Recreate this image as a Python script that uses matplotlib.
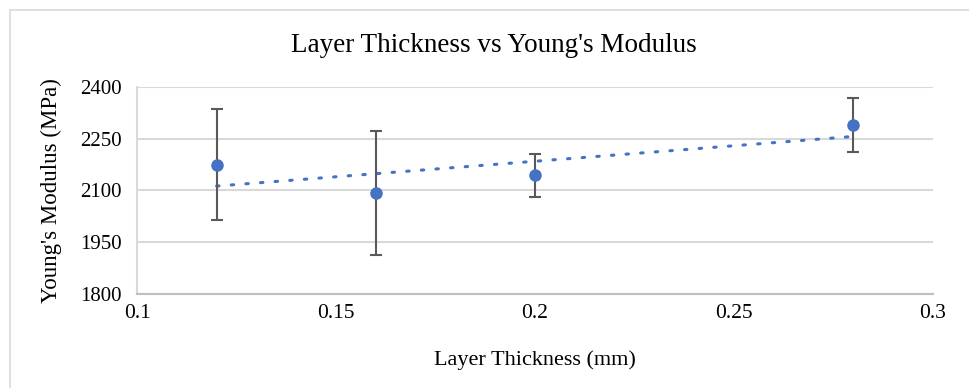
import numpy as np
import matplotlib.pyplot as plt
from matplotlib.patches import Rectangle

plt.rcParams['font.family'] = ['Liberation Serif', 'DejaVu Serif']

thickness = [0.12, 0.16, 0.20, 0.28]
modulus = [2175, 2093, 2144, 2291]
modulus_err = [161, 179, 62, 78]

x_ticks = [0.1, 0.15, 0.2, 0.25, 0.3]
x_tick_labels = ["0.1", "0.15", "0.2", "0.25", "0.3"]
y_ticks = [1800, 1950, 2100, 2250, 2400]

fig = plt.figure(figsize=(9.7, 3.88), dpi=100)
ax = fig.add_axes([137 / 970, 1 - 294 / 388, (933 - 137) / 970, (294 - 87) / 388])

# chart area border
fig.patches.append(Rectangle((10 / 970, -0.1), 1.1, 1 - 10 / 388 + 0.1,
                             transform=fig.transFigure, fill=False,
                             edgecolor="#D9D9D9", linewidth=1.2))

# linear trendline over the data range
slope, intercept = np.polyfit(thickness, modulus, 1)
tx = np.array([thickness[0], thickness[-1]])
ax.plot(tx, slope * tx + intercept, color="#4472C4", linewidth=2.2,
        linestyle=(0, (0.8, 4.0)), dash_capstyle="round", zorder=3)

ax.errorbar(thickness, modulus, yerr=modulus_err, fmt="o", color="#4472C4",
            markersize=8, ecolor="#595959", elinewidth=1.5, capsize=4.5,
            capthick=1.5, zorder=4)

ax.set_xlim(0.1, 0.3)
ax.set_ylim(1800, 2400)
ax.set_xticks(x_ticks)
ax.set_xticklabels(x_tick_labels)
ax.set_yticks(y_ticks)
ax.yaxis.grid(True, color="#D9D9D9", linewidth=1.5)
ax.set_axisbelow(True)
for side in ["top", "right"]:
    ax.spines[side].set_visible(False)
ax.spines["left"].set_color("#D9D9D9")
ax.spines["bottom"].set_color("#BFBFBF")
ax.spines["left"].set_linewidth(1.5)
ax.spines["bottom"].set_linewidth(1.5)
ax.tick_params(axis="x", length=0, labelsize=15.5, pad=7)
ax.tick_params(axis="y", length=0, labelsize=15, pad=11)

fig.text(494 / 970, 1 - 45 / 388, "Layer Thickness vs Young's Modulus",
         fontsize=19.5, ha="center", va="center")
ax.set_xlabel("Layer Thickness (mm)", fontsize=16, labelpad=20)
ax.set_ylabel("Young's Modulus (MPa)", fontsize=16.5, labelpad=13)

fig.savefig("out.png", dpi=100)
